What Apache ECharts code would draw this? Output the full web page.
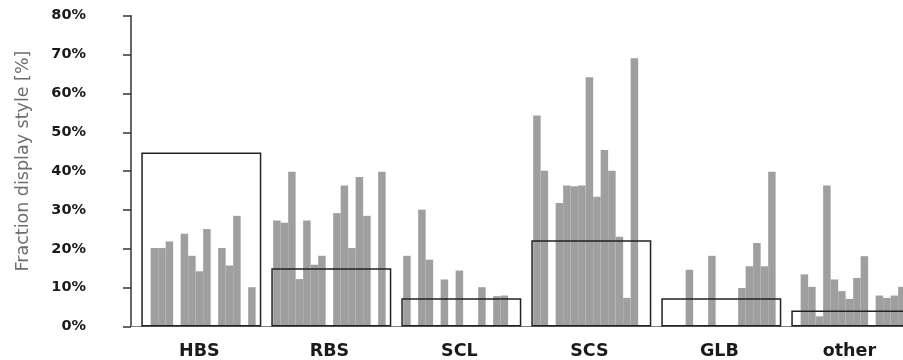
<!DOCTYPE html>
<html>
<head>
<meta charset="utf-8">
<script src="https://cdn.jsdelivr.net/npm/echarts@6/dist/echarts.min.js"></script>
<style>html,body{margin:0;padding:0;background:#fff}#c{width:903px;height:360px}</style>
</head>
<body>
<div id="c"></div>
<script>
// ---- data ----
const categories = ['HBS', 'RBS', 'SCL', 'SCS', 'GLB', 'other'];
// per-category mean (outlined box), in %
const means = [44.8, 15.0, 7.25, 22.2, 7.25, 4.1];
// individual values per subject (15 subjects), in %
const hbs   = [0, 20.1, 20.1, 21.8, 0, 23.8, 18.1, 14.1, 25.0, 0, 20.1, 15.6, 28.4, 0, 10.0];
const rbs   = [27.2, 26.6, 39.8, 12.1, 27.2, 15.8, 18.1, 0, 29.1, 36.2, 20.1, 38.4, 28.4, 0, 39.8];
const scl   = [18.1, 0, 30.0, 17.1, 0, 12.0, 0, 14.3, 0, 0, 10.0, 0, 7.7, 7.85, 0];
const scs   = [54.3, 40.0, 0, 31.7, 36.2, 36.0, 36.2, 64.1, 33.3, 45.4, 40.0, 23.0, 7.25, 69.0, 0];
const glb   = [0, 0, 0, 14.5, 0, 0, 18.1, 0, 0, 0, 9.8, 15.4, 21.4, 15.4, 39.8];
const other = [0, 13.3, 10.1, 2.5, 36.2, 12.0, 9.0, 7.0, 12.4, 18.0, 0, 7.85, 7.25, 7.85, 10.1];
const yTicks = [0, 10, 20, 30, 40, 50, 60, 70, 80];

const perCategory = [hbs, rbs, scl, scs, glb, other];
const nSubjects = hbs.length;

const chart = echarts.init(document.getElementById('c'), null, {renderer: 'canvas'});

const barSeries = [];
for (let j = 0; j < nSubjects; j++) {
  barSeries.push({
    type: 'bar',
    name: 'S' + (j + 1),
    xAxisIndex: 1,
    yAxisIndex: 1,
    barWidth: 7.5,
    barGap: '0%',
    clip: false,
    itemStyle: {color: '#9f9f9f'},
    z: 2,
    silent: true,
    data: perCategory.map(arr => arr[j])
  });
}

const option = {
  animation: false,
  backgroundColor: '#ffffff',
  grid: [
    {left: 131, width: 772, top: 15.7, bottom: 33.5},
    {left: 199.4, width: 650, top: 15.7, bottom: 33.5},
    {left: 201.3, width: 650, top: 15.7, bottom: 33.5}
  ],
  xAxis: [
    {
      gridIndex: 0, type: 'category', data: categories,
      axisLine: {lineStyle: {color: '#808080', width: 1.2}},
      axisTick: {show: false}, axisLabel: {show: false}, splitLine: {show: false}
    },
    {
      gridIndex: 1, type: 'category', data: categories, boundaryGap: false,
      axisLine: {show: false}, axisTick: {show: false}, splitLine: {show: false},
      axisLabel: {
        margin: 16, color: '#1a1a1a', fontFamily: 'DejaVu Sans',
        fontWeight: 'bold', fontSize: 17.5, interval: 0
      }
    },
    {
      gridIndex: 2, type: 'category', data: categories, boundaryGap: false, show: false
    }
  ],
  yAxis: [
    {
      gridIndex: 0, type: 'value', min: yTicks[0], max: yTicks[yTicks.length - 1], interval: 10,
      axisLine: {show: true, lineStyle: {color: '#333333', width: 1.5}},
      axisTick: {show: true, length: 8, lineStyle: {color: '#333333', width: 1.5}},
      splitLine: {show: false},
      axisLabel: {
        margin: 45, formatter: '{value}%', color: '#1a1a1a',
        fontFamily: 'DejaVu Sans', fontWeight: 'bold', fontSize: 14.5
      },
      name: 'Fraction display style [%]',
      nameLocation: 'middle',
      nameRotate: 90,
      nameGap: 99,
      nameTextStyle: {
        color: '#6e6e6e', fontFamily: 'DejaVu Sans', fontSize: 17.5,
        padding: [0, 0, 0, 20]
      }
    },
    {gridIndex: 1, type: 'value', min: 0, max: 80, show: false},
    {gridIndex: 2, type: 'value', min: 0, max: 80, show: false}
  ],
  series: barSeries.concat([{
    type: 'bar',
    name: 'mean',
    xAxisIndex: 2,
    yAxisIndex: 2,
    barWidth: 120,
    clip: false,
    z: 5,
    silent: true,
    itemStyle: {color: 'rgba(0,0,0,0)', borderColor: '#222222', borderWidth: 1.5},
    data: means
  }])
};
chart.setOption(option);
</script>
</body>
</html>
